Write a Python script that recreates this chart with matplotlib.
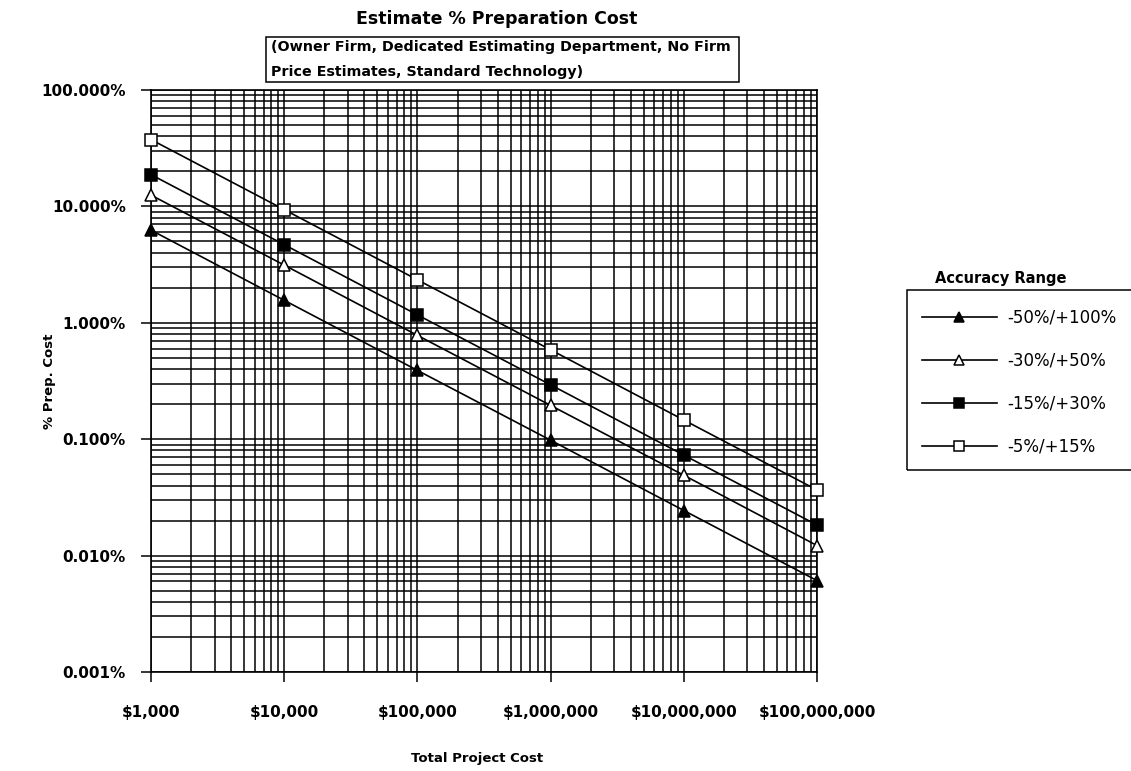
import matplotlib
matplotlib.use("Agg")
import matplotlib.pyplot as plt
from matplotlib.patches import Rectangle
from matplotlib.ticker import FixedLocator, FuncFormatter, LogLocator, NullFormatter

project_cost = [1e3, 1e4, 1e5, 1e6, 1e7, 1e8]
cost_labels = ["$1,000", "$10,000", "$100,000", "$1,000,000", "$10,000,000", "$100,000,000"]

# percent of project cost spent on preparing the estimate
prep_50_100 = [6.25, 1.56, 0.39, 0.098, 0.0244, 0.0061]
prep_30_50 = [12.5, 3.13, 0.78, 0.195, 0.049, 0.0122]
prep_15_30 = [18.75, 4.69, 1.17, 0.293, 0.073, 0.0183]
prep_5_15 = [37.5, 9.38, 2.34, 0.586, 0.146, 0.0366]

series_names = ["-50%/+100%", "-30%/+50%", "-15%/+30%", "-5%/+15%"]
series_markers = [("^", "black"), ("^", "white"), ("s", "black"), ("s", "white")]

plt.rcParams["font.family"] = ["DejaVu Sans"]

fig = plt.figure(figsize=(11.31, 7.71), dpi=100)
ax = fig.add_axes([0.1335, 0.1284, 0.5889, 0.7549])

for vals, name, (mk, fc) in zip([prep_50_100, prep_30_50, prep_15_30, prep_5_15],
                                series_names, series_markers):
    ax.plot(project_cost, vals, color="black", linewidth=1.2, marker=mk,
            markersize=8.5, markerfacecolor=fc, markeredgecolor="black",
            markeredgewidth=1.1, label=name, clip_on=False, zorder=5)

ax.set_xscale("log")
ax.set_yscale("log")
ax.set_xlim(1e3, 1e8)
ax.set_ylim(0.001, 100)

ax.xaxis.set_major_locator(FixedLocator(project_cost))
ax.xaxis.set_major_formatter(FuncFormatter(lambda v, p: cost_labels[project_cost.index(v)]
                                           if v in project_cost else ""))
ax.xaxis.set_minor_locator(LogLocator(base=10, subs=range(2, 10)))
ax.xaxis.set_minor_formatter(NullFormatter())
ax.yaxis.set_major_locator(LogLocator(base=10, numticks=10))
ax.yaxis.set_major_formatter(FuncFormatter(lambda v, p: f"{v:.3f}%"))
ax.yaxis.set_minor_locator(LogLocator(base=10, subs=range(2, 10), numticks=20))
ax.yaxis.set_minor_formatter(NullFormatter())

ax.grid(True, which="both", color="black", linewidth=1.1)
ax.set_axisbelow(True)
for s in ax.spines.values():
    s.set_linewidth(1.2)

ax.tick_params(which="major", direction="out", length=7, width=1.1, labelsize=11)
ax.tick_params(which="minor", length=0)
ax.tick_params(axis="x", pad=17)
ax.tick_params(axis="y", pad=11)
for lbl in ax.get_xticklabels() + ax.get_yticklabels():
    lbl.set_fontweight("bold")

ax.set_xlabel("Total Project Cost", fontsize=9.5, fontweight="bold")
ax.set_ylabel("% Prep. Cost", fontsize=9.5, fontweight="bold")
ax.xaxis.set_label_coords(0.49, -0.138)
ax.yaxis.set_label_coords(-0.142, 0.5)

fig.text(0.4395, 0.987, "Estimate % Preparation Cost", ha="center", va="top",
         fontsize=12.5, fontweight="bold")
fig.text(0.2395, 0.948, "(Owner Firm, Dedicated Estimating Department, No Firm\n"
         "Price Estimates, Standard Technology)", ha="left", va="top",
         fontsize=10.3, fontweight="bold", linespacing=2.0)
fig.add_artist(Rectangle((0.2352, 0.8936), 0.418, 0.0584, transform=fig.transFigure,
                         fill=False, edgecolor="black", linewidth=1.1))

# legend: title sits above the framed box, which runs off the right edge
fig.text(0.885, 0.6394, "Accuracy Range", ha="center", va="center",
         fontsize=10.5, fontweight="bold")
fig.add_artist(Rectangle((0.802, 0.390), 0.25, 0.234, transform=fig.transFigure,
                         fill=False, edgecolor="black", linewidth=1.1, clip_on=False))
fig.legend(loc="upper left", bbox_to_anchor=(0.8093, 0.6083), frameon=False,
           fontsize=12, handlelength=4.5, handletextpad=0.6, labelspacing=1.5,
           markerscale=0.8, borderaxespad=0)

fig.savefig("out.png", dpi=100)
